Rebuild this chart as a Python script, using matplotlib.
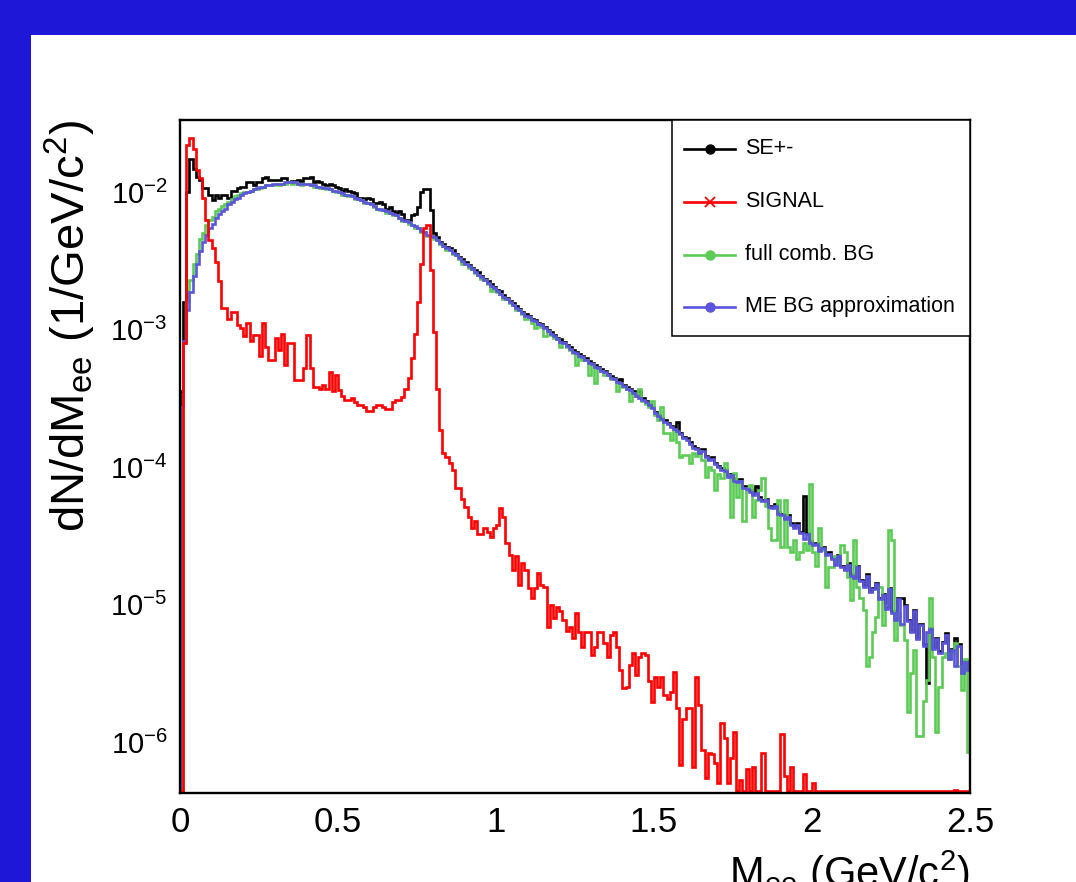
import numpy as np
import matplotlib
matplotlib.use("Agg")
import matplotlib.pyplot as plt
from matplotlib.patches import Rectangle
from matplotlib.lines import Line2D
from matplotlib.ticker import NullLocator

plt.rcParams['font.family'] = ['Liberation Sans', 'DejaVu Sans']
plt.rcParams['mathtext.fontset'] = 'custom'
plt.rcParams['mathtext.rm'] = 'Liberation Sans'
plt.rcParams['mathtext.it'] = 'Liberation Sans:italic'
plt.rcParams['mathtext.bf'] = 'Liberation Sans:bold'

# ---- data: 250 bins of 0.01 GeV/c^2 from 0 to 2.5; values are log10(dN/dMee), None = empty bin
mass_edges = np.linspace(0.0, 2.5, 251)

se_log = [
    -3.45, -2.80, -2.00, -1.76, -1.83, -1.89, -1.91, -1.97, -1.97, -2.02,
    -2.06, -2.02, -2.04, -2.02, -2.02, -2.04, -1.99, -1.99, -1.97, -1.96,
    -1.96, -1.93, -1.93, -1.95, -1.93, -1.93, -1.90, -1.89, -1.91, -1.91,
    -1.91, -1.91, -1.90, -1.90, -1.93, -1.92, -1.92, -1.91, -1.92, -1.90,
    -1.90, -1.89, -1.93, -1.92, -1.93, -1.94, -1.95, -1.94, -1.95, -1.96,
    -1.97, -1.99, -1.98, -1.99, -2.00, -2.01, -2.04, -2.04, -2.05, -2.04,
    -2.05, -2.08, -2.08, -2.07, -2.09, -2.12, -2.11, -2.14, -2.15, -2.14,
    -2.16, -2.20, -2.20, -2.17, -2.16, -2.11, -2.00, -1.98, -1.98, -2.13,
    -2.30, -2.33, -2.36, -2.38, -2.40, -2.41, -2.42, -2.45, -2.47, -2.49,
    -2.51, -2.53, -2.55, -2.57, -2.58, -2.61, -2.63, -2.65, -2.67, -2.69,
    -2.71, -2.72, -2.75, -2.77, -2.79, -2.81, -2.83, -2.85, -2.87, -2.89,
    -2.90, -2.92, -2.93, -2.95, -2.96, -2.98, -3.00, -3.02, -3.04, -3.06,
    -3.07, -3.09, -3.11, -3.13, -3.15, -3.16, -3.18, -3.19, -3.21, -3.23,
    -3.24, -3.26, -3.27, -3.29, -3.30, -3.32, -3.34, -3.35, -3.37, -3.36,
    -3.40, -3.42, -3.43, -3.45, -3.47, -3.45, -3.50, -3.52, -3.54, -3.56,
    -3.60, -3.62, -3.64, -3.66, -3.68, -3.70, -3.71, -3.67, -3.75, -3.78,
    -3.79, -3.82, -3.85, -3.86, -3.89, -3.87, -3.92, -3.94, -3.93, -3.97,
    -3.99, -4.01, -4.02, -4.06, -4.05, -4.09, -4.10, -4.09, -4.14, -4.15,
    -4.17, -4.19, -4.14, -4.22, -4.24, -4.23, -4.28, -4.29, -4.27, -4.33,
    -4.34, -4.37, -4.35, -4.41, -4.43, -4.41, -4.47, -4.21, -4.48, -4.54,
    -4.56, -4.55, -4.60, -4.58, -4.63, -4.62, -4.66, -4.70, -4.64, -4.72,
    -4.74, -4.70, -4.78, -4.80, -4.72, -4.82, -4.86, -4.78, -4.90, -4.88,
    -4.84, -4.95, -4.92, -5.02, -4.88, -5.05, -5.10, -4.95, -4.95, -5.00,
    -5.11, -5.19, -5.04, -5.24, -5.14, -5.29, -5.57, -5.17, -5.31, -5.24,
    -5.34, -5.27, -5.21, -5.39, -5.32, -5.24, -5.29, -5.49, -5.41, -5.47,
]

signal_log = [
    None, -3.10, -1.66, -1.61, -1.69, -1.84, -1.90, -2.04, -2.20, -2.35,
    -2.41, -2.51, -2.65, -2.84, -2.84, -2.92, -2.87, -2.87, -2.97, -2.99,
    -3.05, -2.95, -3.08, -3.04, -3.04, -3.19, -2.95, -3.13, -3.22, -3.22,
    -3.06, -3.15, -3.03, -3.26, -3.10, -3.10, -3.37, -3.37, -3.37, -3.28,
    -3.04, -3.28, -3.42, -3.42, -3.43, -3.40, -3.43, -3.31, -3.45, -3.33,
    -3.44, -3.48, -3.51, -3.51, -3.50, -3.53, -3.55, -3.55, -3.56, -3.59,
    -3.59, -3.56, -3.55, -3.55, -3.56, -3.58, -3.58, -3.53, -3.51, -3.51,
    -3.49, -3.43, -3.35, -3.21, -3.03, -2.80, -2.52, -2.26, -2.24, -2.57,
    -3.02, -3.43, -3.73, -3.90, -3.93, -3.97, -4.02, -4.15, -4.15, -4.23,
    -4.29, -4.36, -4.44, -4.39, -4.49, -4.49, -4.44, -4.47, -4.51, -4.44,
    -4.42, -4.30, -4.36, -4.55, -4.64, -4.75, -4.65, -4.86, -4.70, -4.75,
    -4.88, -4.95, -4.88, -4.77, -4.86, -4.87, -5.16, -5.00, -5.10, -5.02,
    -5.05, -5.11, -5.19, -5.16, -5.24, -5.06, -5.20, -5.31, -5.20, -5.20,
    -5.37, -5.31, -5.20, -5.20, -5.28, -5.38, -5.22, -5.20, -5.31, -5.48,
    -5.61, -5.60, -5.44, -5.35, -5.51, -5.38, -5.35, -5.37, -5.56, -5.71,
    -5.53, -5.60, -5.53, -5.66, -5.69, -5.64, -5.49, -5.75, -6.17, -5.83,
    -5.75, -5.75, -6.18, -5.53, -5.73, -6.06, -6.26, -6.08, -6.09, -6.15,
    -6.30, -5.86, -5.97, -6.30, -6.12, -5.93, None, -6.28, None, -6.20,
    None, -6.18, None, None, -6.08, None, None, None, None, None,
    -5.94, -6.25, None, -6.18, None, None, None, -6.23, None, None,
    -6.30, None, None, None, None, None, None, None, None, None,
    None, None, None, None, None, None, None, None, None, None,
    None, None, None, None, None, None, None, None, None, None,
    None, None, None, None, None, None, None, None, None, None,
    None, None, None, None, None, -6.35, None, None, None, None,
]

full_bg_log = [
    None, -3.10, -2.80, -2.64, -2.52, -2.45, -2.34, -2.30, -2.24, -2.20,
    -2.18, -2.14, -2.12, -2.10, -2.09, -2.07, -2.05, -2.03, -2.02, -2.01,
    -2.00, -2.00, -1.99, -1.98, -1.98, -1.97, -1.96, -1.95, -1.95, -1.95,
    -1.94, -1.95, -1.94, -1.94, -1.93, -1.94, -1.93, -1.94, -1.95, -1.94,
    -1.94, -1.95, -1.96, -1.96, -1.97, -1.97, -1.98, -1.98, -1.99, -2.00,
    -2.00, -2.02, -2.02, -2.03, -2.03, -2.05, -2.05, -2.06, -2.08, -2.08,
    -2.09, -2.11, -2.12, -2.13, -2.13, -2.15, -2.15, -2.17, -2.17, -2.19,
    -2.21, -2.21, -2.23, -2.24, -2.26, -2.26, -2.29, -2.29, -2.32, -2.32,
    -2.34, -2.35, -2.38, -2.39, -2.42, -2.42, -2.45, -2.46, -2.49, -2.52,
    -2.52, -2.55, -2.56, -2.59, -2.60, -2.63, -2.64, -2.67, -2.72, -2.70,
    -2.73, -2.74, -2.78, -2.78, -2.81, -2.82, -2.86, -2.86, -2.89, -2.92,
    -2.91, -2.95, -2.99, -2.96, -2.98, -3.05, -3.01, -3.04, -3.06, -3.07,
    -3.13, -3.10, -3.13, -3.15, -3.17, -3.26, -3.19, -3.22, -3.22, -3.33,
    -3.25, -3.39, -3.28, -3.30, -3.33, -3.33, -3.36, -3.36, -3.45, -3.39,
    -3.42, -3.43, -3.52, -3.46, -3.48, -3.43, -3.52, -3.54, -3.56, -3.52,
    -3.62, -3.66, -3.56, -3.75, -3.75, -3.80, -3.73, -3.82, -3.93, -3.91,
    -3.91, -3.97, -3.90, -3.92, -3.88, -3.95, -4.07, -4.00, -4.02, -4.17,
    -4.05, -4.08, -3.97, -4.06, -4.36, -4.04, -4.22, -4.10, -4.39, -4.15,
    -4.13, -4.36, -4.24, -4.17, -4.08, -4.28, -4.44, -4.53, -4.53, -4.24,
    -4.58, -4.24, -4.58, -4.62, -4.53, -4.67, -4.62, -4.55, -4.60, -4.12,
    -4.62, -4.72, -4.44, -4.60, -4.87, -4.73, -4.73, -4.65, -4.70, -4.57,
    -4.62, -4.80, -4.97, -4.53, -4.87, -4.95, -5.04, -5.45, -5.38, -5.20,
    -5.09, -4.87, -5.15, -5.00, -4.46, -4.53, -5.26, -5.06, -5.15, -5.26,
    -5.78, -5.50, -5.33, -5.96, -5.96, -5.70, -5.55, -4.95, -5.38, -5.93,
    -5.60, -5.38, -5.35, -5.40, -5.35, -5.28, -5.45, -5.62, -5.40, -6.07,
]

me_bg_log = [
    -3.56, -3.08, -2.86, -2.73, -2.61, -2.52, -2.43, -2.36, -2.31, -2.26,
    -2.23, -2.19, -2.16, -2.14, -2.12, -2.09, -2.07, -2.05, -2.04, -2.02,
    -2.01, -2.00, -1.99, -1.98, -1.97, -1.96, -1.96, -1.95, -1.95, -1.94,
    -1.94, -1.94, -1.94, -1.93, -1.93, -1.93, -1.93, -1.94, -1.94, -1.94,
    -1.94, -1.95, -1.95, -1.96, -1.96, -1.97, -1.97, -1.98, -1.99, -1.99,
    -2.00, -2.01, -2.02, -2.02, -2.03, -2.04, -2.05, -2.06, -2.07, -2.08,
    -2.09, -2.10, -2.12, -2.12, -2.13, -2.14, -2.15, -2.16, -2.17, -2.19,
    -2.20, -2.21, -2.22, -2.24, -2.25, -2.26, -2.28, -2.29, -2.31, -2.32,
    -2.33, -2.35, -2.37, -2.39, -2.41, -2.42, -2.44, -2.46, -2.48, -2.50,
    -2.52, -2.54, -2.56, -2.58, -2.60, -2.62, -2.64, -2.66, -2.68, -2.70,
    -2.72, -2.74, -2.76, -2.78, -2.80, -2.82, -2.84, -2.86, -2.88, -2.90,
    -2.91, -2.93, -2.94, -2.96, -2.97, -2.99, -3.01, -3.03, -3.05, -3.07,
    -3.09, -3.10, -3.12, -3.14, -3.16, -3.17, -3.19, -3.20, -3.22, -3.24,
    -3.25, -3.27, -3.28, -3.30, -3.31, -3.33, -3.35, -3.36, -3.38, -3.39,
    -3.41, -3.43, -3.44, -3.46, -3.48, -3.50, -3.51, -3.53, -3.55, -3.57,
    -3.61, -3.63, -3.65, -3.67, -3.69, -3.71, -3.72, -3.74, -3.76, -3.79,
    -3.80, -3.83, -3.86, -3.87, -3.90, -3.88, -3.93, -3.95, -3.94, -3.98,
    -4.00, -4.02, -4.03, -4.07, -4.06, -4.10, -4.11, -4.10, -4.15, -4.16,
    -4.18, -4.20, -4.19, -4.23, -4.25, -4.24, -4.29, -4.30, -4.28, -4.34,
    -4.35, -4.38, -4.36, -4.42, -4.44, -4.42, -4.48, -4.52, -4.49, -4.55,
    -4.57, -4.56, -4.61, -4.59, -4.64, -4.63, -4.67, -4.71, -4.65, -4.73,
    -4.75, -4.71, -4.79, -4.81, -4.73, -4.83, -4.87, -4.79, -4.91, -4.89,
    -4.85, -4.96, -4.93, -5.03, -4.89, -5.06, -5.11, -4.96, -5.14, -5.01,
    -5.12, -5.20, -5.05, -5.25, -5.15, -5.30, -5.20, -5.18, -5.32, -5.25,
    -5.35, -5.28, -5.22, -5.40, -5.33, -5.45, -5.30, -5.50, -5.42, -5.48,
]

series_labels = ["SE+-", "SIGNAL", "full comb. BG", "ME BG approximation"]
series_colors = ["#000000", "#ff0000", "#5ccb56", "#5b55dc"]
series_markers = ["o", "x", "o", "o"]

x_ticks = [0, 0.5, 1, 1.5, 2, 2.5]
x_tick_labels = ["0", "0.5", "1", "1.5", "2", "2.5"]
y_ticks = [1e-6, 1e-5, 1e-4, 1e-3, 1e-2]
y_tick_labels = [r"$10^{-6}$", r"$10^{-5}$", r"$10^{-4}$", r"$10^{-3}$", r"$10^{-2}$"]

Y_MIN = 10 ** -6.371
Y_MAX = 10 ** -1.476
FLOOR = Y_MIN * 1.03   # empty bins are drawn along the frame floor, as ROOT does on a log scale


def to_values(log_list):
    arr = np.array([np.nan if v is None else v for v in log_list], dtype=float)
    vals = np.power(10.0, arr)
    return np.where(np.isnan(vals), FLOOR, vals)


W, H = 1076, 882
fig = plt.figure(figsize=(W / 100, H / 100), dpi=100, facecolor="#1f17d8")
fig.patches.append(Rectangle((31 / W, 0), 1 - 31 / W, 1 - 35 / H, transform=fig.transFigure,
                             facecolor="white", edgecolor="none", zorder=-10))

ax = fig.add_axes([180 / W, 1 - 793 / H, 790 / W, 673 / H])
ax.set_zorder(5)
ax.set_facecolor("white")
ax.set_yscale("log")
ax.set_xlim(0, 2.5)
ax.set_ylim(Y_MIN, Y_MAX)

LW = 1.9
order = [0, 2, 3, 1]
data_lists = [se_log, signal_log, full_bg_log, me_bg_log]
for idx in order:
    ax.stairs(to_values(data_lists[idx]), mass_edges, baseline=Y_MIN * 0.999,
              color=series_colors[idx], linewidth=LW, zorder=3 + order.index(idx))

ax.set_xticks(x_ticks)
ax.set_xticklabels(x_tick_labels)
ax.set_yticks(y_ticks)
ax.set_yticklabels(y_tick_labels)
ax.yaxis.set_minor_locator(NullLocator())
ax.xaxis.set_minor_locator(NullLocator())
ax.tick_params(axis="both", length=0)
ax.tick_params(axis="x", labelsize=25, pad=9)
ax.tick_params(axis="y", labelsize=21, pad=9)
for sp in ax.spines.values():
    sp.set_linewidth(1.7)
    sp.set_color("black")
    sp.set_zorder(10)

# legend box (drawn in axes coordinates)
lx0, lx1 = (672 - 180) / 790, 1.0
ly0, ly1 = (793 - 336) / 673, 1.0
ax.add_patch(Rectangle((lx0, ly0), lx1 - lx0, ly1 - ly0, transform=ax.transAxes,
                       facecolor="white", edgecolor="black", linewidth=1.1, zorder=20))
entry_y = [(793 - y) / 673 for y in (149, 202, 255, 307)]
hx0, hx1 = (684 - 180) / 790, (735 - 180) / 790
tx = (745 - 180) / 790
for i in range(4):
    yy = entry_y[i]
    ax.add_line(Line2D([hx0, hx1], [yy, yy], transform=ax.transAxes, color=series_colors[i],
                       linewidth=LW, zorder=21))
    if series_markers[i] == "x":
        ax.add_line(Line2D([(hx0 + hx1) / 2], [yy], transform=ax.transAxes, marker="x",
                           markersize=7, markeredgewidth=1.3, color=series_colors[i], zorder=22))
    else:
        ax.add_line(Line2D([(hx0 + hx1) / 2], [yy], transform=ax.transAxes, marker="o",
                           markersize=6.5, color=series_colors[i], zorder=22))
    ax.text(tx, yy, series_labels[i], transform=ax.transAxes, fontsize=15.5,
            va="center", ha="left", zorder=23)

fig.text(70 / W, 1 - 120 / H, r"dN/dM$_{\mathrm{ee}}$ (1/GeV/c$^{2}$)", rotation=90,
         ha="center", va="top", fontsize=34)
fig.text(970 / W, 1 - 887 / H, r"M$_{\mathrm{ee}}$ (GeV/c$^{2}$)", ha="right",
         va="baseline", fontsize=30)

fig.savefig("out.png", dpi=100, facecolor=fig.get_facecolor())
